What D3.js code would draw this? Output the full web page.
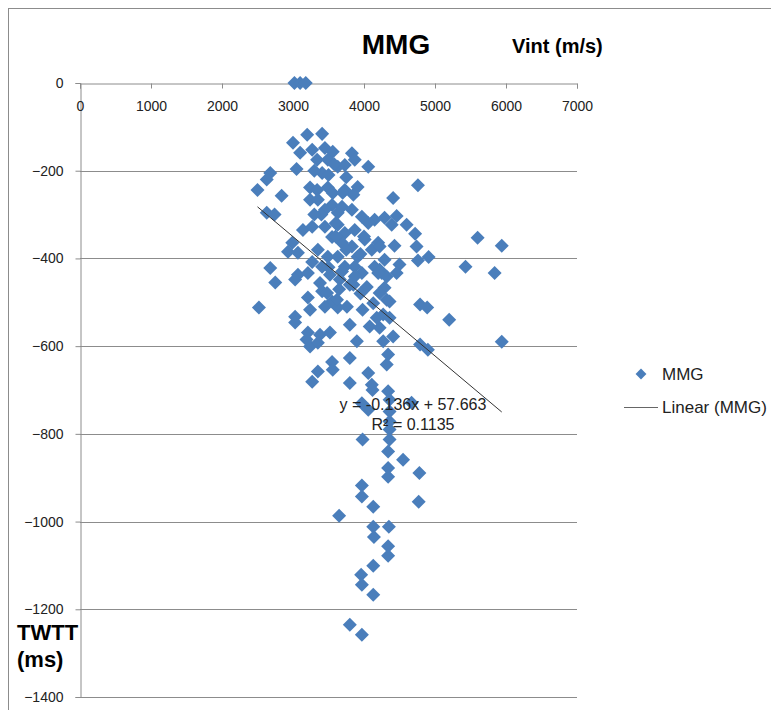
<!DOCTYPE html>
<html>
<head>
<meta charset="utf-8">
<script src="https://cdn.jsdelivr.net/npm/d3@7"></script>
<style>
  body { margin: 0; background: #fff; }
  svg text { font-family: "Liberation Sans", Arial, sans-serif; }
</style>
</head>
<body>
<div id="chart"></div>
<script>
// Vint (m/s) and TWTT (ms) for each MMG point
const vint = [3020, 3100, 3180, 3000, 3200, 3410, 3100, 3270, 3340, 3450,
  3560, 3490, 3830, 3870, 3730, 3630, 4060, 3050, 3410, 2680,
  2630, 2500, 2840, 3240, 3340, 3490, 3560, 3730, 3910, 3240,
  3350, 3550, 3690, 3450, 3630, 2630, 2740, 3830, 3970, 4150,
  3140, 3270, 3450, 3630, 3730, 3870, 3550, 2990, 2930, 3070,
  3690, 3830, 3910, 4110, 4200, 3350, 3490, 3630, 3270, 3410,
  2680, 3070, 3210, 3520, 3690, 3870, 3970, 4150, 4250, 4760,
  4410, 4290, 4460, 4390, 4600, 4720, 4220, 4430, 4740, 4290,
  4500, 4760, 4910, 4460, 4320, 5600, 5940, 5430, 5840, 5200,
  5940, 4290, 4360, 4790, 4890, 4270, 4360, 4220, 4410, 4270,
  4790, 4900, 4340, 4320, 4340, 4670, 4360, 4360, 4360, 4360,
  4360, 2750, 3030, 2520, 3210, 3410, 3550, 3240, 3450, 3630,
  3030, 3030, 3210, 3380, 3520, 3240, 3350, 3800, 3900, 3550,
  3800, 3350, 3560, 3270, 4060, 3800, 4110, 3980, 4340, 4550,
  4340, 4780, 4340, 3970, 3970, 4130, 4770, 3650, 4130, 4350,
  4140, 4340, 4340, 4130, 3960, 3970, 4130, 3800, 3970, 3380,
  3480, 3620, 3760, 4080, 4180, 3980, 4130, 4220, 4040, 3850,
  3660, 4320, 4220, 3190, 4060, 4010, 3730, 3870, 4200, 3970,
  4060, 4120, 3400, 3600, 3750, 3500, 3800, 3650, 3950, 3600,
  3300, 3700, 3850, 3950, 4000, 3500, 3750, 3300, 3580];
const twtt = [0, 0, 0, -136, -118, -116, -159, -152, -175, -148,
  -157, -175, -160, -175, -187, -191, -191, -196, -205, -205,
  -220, -244, -257, -238, -244, -238, -251, -244, -237, -266,
  -266, -278, -282, -289, -296, -296, -300, -289, -305, -312,
  -335, -328, -328, -323, -342, -335, -351, -364, -385, -387,
  -364, -373, -396, -380, -364, -380, -396, -396, -408, -419,
  -422, -437, -433, -437, -430, -419, -433, -419, -433, -233,
  -262, -307, -303, -323, -323, -344, -373, -371, -373, -403,
  -414, -405, -397, -433, -441, -353, -371, -419, -433, -540,
  -590, -467, -498, -505, -512, -528, -535, -558, -578, -589,
  -596, -608, -619, -642, -703, -729, -722, -749, -772, -790,
  -813, -455, -448, -512, -489, -475, -498, -517, -510, -512,
  -533, -546, -569, -574, -569, -601, -592, -551, -589, -636,
  -627, -658, -654, -681, -661, -684, -688, -813, -840, -859,
  -878, -889, -898, -918, -943, -966, -955, -987, -1012, -1012,
  -1035, -1056, -1078, -1101, -1121, -1144, -1167, -1235, -1258, -456,
  -479, -494, -510, -555, -535, -517, -502, -479, -465, -460,
  -448, -494, -426, -585, -319, -357, -419, -441, -433, -730,
  -745, -700, -300, -350, -380, -420, -460, -470, -480, -320,
  -300, -250, -255, -390, -350, -210, -215, -200, -185];

const xTicks = [0, 1000, 2000, 3000, 4000, 5000, 6000, 7000];
const yTicks = [0, -200, -400, -600, -800, -1000, -1200, -1400];

// linear trend given on the chart
const slope = -0.136;
const intercept = 57.663;
const trendText = ["y = -0.136x + 57.663", "R² = 0.1135"];

const points = vint.map((v, i) => ({ x: v, y: twtt[i] }));

const svg = d3.select("#chart").append("svg")
  .attr("width", 771)
  .attr("height", 710);

// chart frame
svg.append("rect")
  .attr("x", 8.5).attr("y", 8.5)
  .attr("width", 780).attr("height", 720)
  .attr("fill", "none")
  .attr("stroke", "#8c8c8c");

const x = d3.scaleLinear().domain([0, 7000]).range([80, 577]);
const y = d3.scaleLinear().domain([-1400, 0]).range([697, 83]);

// horizontal gridlines
svg.append("g")
  .selectAll("line")
  .data(yTicks.filter(d => d !== 0))
  .enter()
  .append("line")
    .attr("x1", x(0)).attr("x2", x(7000))
    .attr("y1", d => Math.round(y(d)) + 0.5)
    .attr("y2", d => Math.round(y(d)) + 0.5)
    .attr("stroke", "#8c8c8c");

const yAxis = svg.append("g")
  .attr("transform", "translate(" + (x(0) + 0.5) + ",0)")
  .call(d3.axisLeft(y).tickValues(yTicks).tickFormat(d3.format("d"))
    .tickSize(5).tickPadding(12));

const xAxis = svg.append("g")
  .attr("transform", "translate(0," + (y(0) + 0.5) + ")")
  .call(d3.axisBottom(x).tickValues(xTicks).tickFormat(d3.format("d"))
    .tickSize(5).tickPadding(13));

[xAxis, yAxis].forEach(a => {
  a.selectAll("path, line").attr("stroke", "#8c8c8c");
  a.selectAll("text")
    .attr("fill", "#222")
    .style("font-size", "14px");
});

// points
const diamond = d3.symbol().type(d3.symbolDiamond2).size(125);
svg.append("g")
  .selectAll("path")
  .data(points)
  .enter()
  .append("path")
    .attr("d", diamond)
    .attr("transform", d => "translate(" + x(d.x) + "," + y(d.y) + ")")
    .attr("fill", "#4a7ebb");

// trendline over the range of the data
const ext = d3.extent(vint);
svg.append("line")
  .attr("x1", x(ext[0])).attr("y1", y(slope * ext[0] + intercept))
  .attr("x2", x(ext[1])).attr("y2", y(slope * ext[1] + intercept))
  .attr("stroke", "#333")
  .attr("stroke-width", 1);

svg.selectAll(".eq")
  .data(trendText)
  .enter()
  .append("text")
    .attr("class", "eq")
    .attr("x", 413)
    .attr("y", (d, i) => 410 + i * 20)
    .attr("text-anchor", "middle")
    .style("font-size", "16px")
    .attr("fill", "#222")
    .text(d => d);

// titles
svg.append("text")
  .attr("x", 396).attr("y", 54)
  .attr("text-anchor", "middle")
  .style("font-size", "28px")
  .style("font-weight", "bold")
  .text("MMG");

svg.append("text")
  .attr("x", 512).attr("y", 53)
  .style("font-size", "20px")
  .style("font-weight", "bold")
  .text("Vint (m/s)");

svg.append("text")
  .attr("x", 17).attr("y", 640)
  .style("font-size", "22px")
  .style("font-weight", "bold")
  .text("TWTT");
svg.append("text")
  .attr("x", 17).attr("y", 667)
  .style("font-size", "22px")
  .style("font-weight", "bold")
  .text("(ms)");

// legend
const legend = svg.append("g");
legend.append("path")
  .attr("d", d3.symbol().type(d3.symbolDiamond2).size(75))
  .attr("transform", "translate(641,374)")
  .attr("fill", "#4a7ebb");
legend.append("text")
  .attr("x", 662).attr("y", 380)
  .style("font-size", "17px")
  .attr("fill", "#222")
  .text("MMG");
legend.append("line")
  .attr("x1", 624).attr("x2", 658)
  .attr("y1", 407.5).attr("y2", 407.5)
  .attr("stroke", "#666");
legend.append("text")
  .attr("x", 662).attr("y", 413)
  .style("font-size", "17px")
  .attr("fill", "#222")
  .text("Linear (MMG)");
</script>
</body>
</html>
